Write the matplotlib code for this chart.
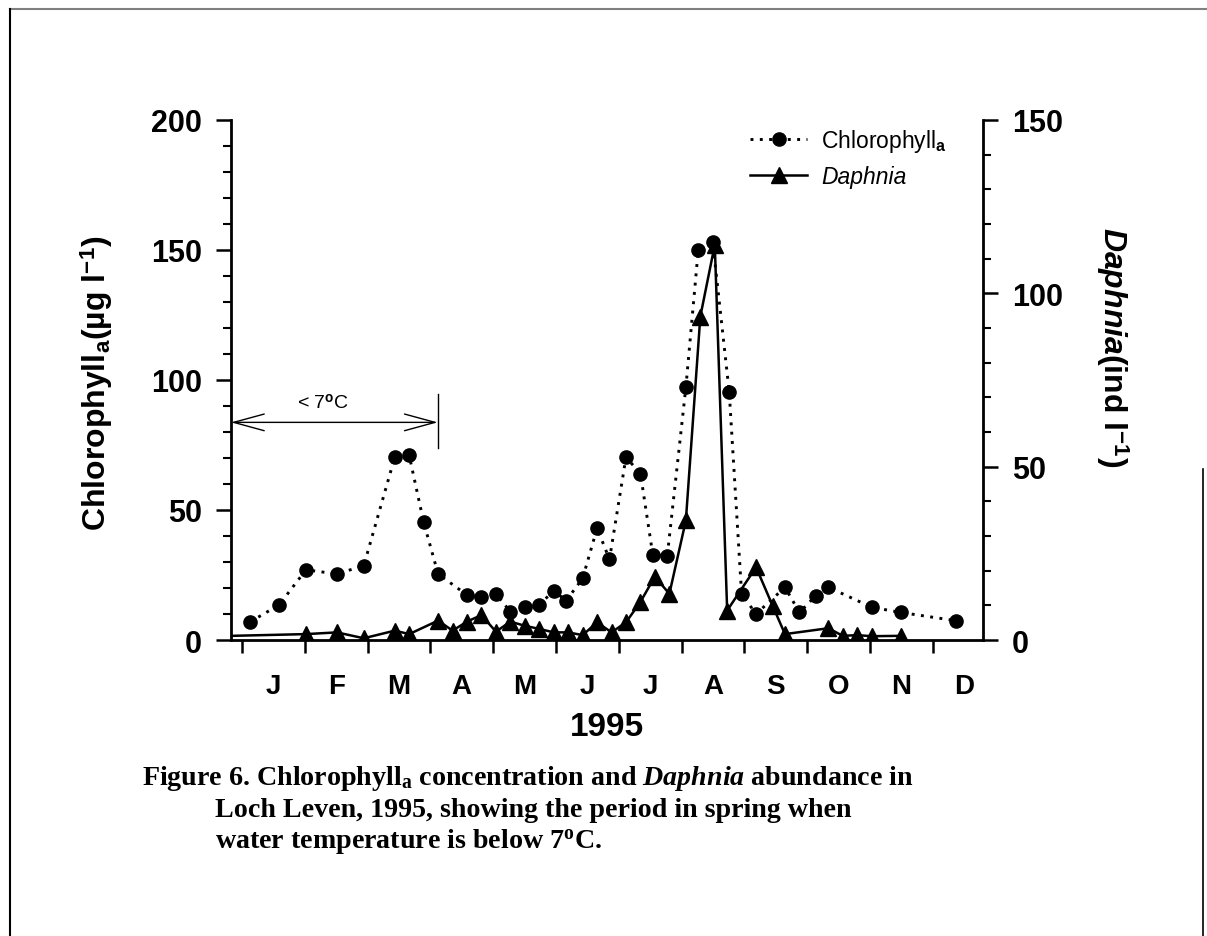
import numpy as np
import matplotlib
matplotlib.use('Agg')
import matplotlib.pyplot as plt
from matplotlib.lines import Line2D

plt.rcParams['font.family'] = ['Liberation Sans', 'DejaVu Sans']
plt.rcParams['font.weight'] = 'bold'
plt.rcParams['mathtext.fontset'] = 'custom'
plt.rcParams['mathtext.rm'] = 'Liberation Serif:bold'
plt.rcParams['mathtext.it'] = 'Liberation Serif:bold:italic'
plt.rcParams['mathtext.sf'] = 'Liberation Sans:bold'
plt.rcParams['mathtext.bfit'] = 'Liberation Sans:bold:italic'
plt.rcParams['mathtext.tt'] = 'Liberation Sans'

# sampling dates (day of 1995) and values
chl_day = [4, 18, 31, 46, 59, 74, 81, 88, 95, 109, 116, 123, 130, 137, 144,
           151, 157, 165, 172, 178, 186, 193, 199, 206, 215, 221, 228, 236,
           242, 249, 263, 270, 278, 284, 305, 319, 346]
chl = [7, 13.5, 27, 25.4, 28.6, 70.3, 71, 45.3, 25.4, 17.3, 16.4, 17.7, 10.9,
       12.6, 13.5, 19, 15.1, 23.7, 43, 31, 70.3, 64, 32.7, 32.4, 97.2, 150,
       153, 95.3, 17.7, 10, 20.3, 10.6, 17.1, 20.3, 12.6, 10.6, 7.4]

daph_day = [-5, 31, 46, 59, 74, 81, 95, 102, 109, 116, 123, 130, 137, 144,
            151, 158, 165, 172, 179, 186, 193, 200, 207, 215, 222, 229, 235,
            249, 257, 263, 284, 291, 298, 305, 319]
daph = [1.2, 1.7, 2.2, 0.5, 2.7, 1.7, 5.6, 2.7, 5.3, 7.2, 2.4, 5.3, 4.1, 3.2,
        2.2, 2.2, 1.4, 5.1, 2.2, 5.1, 11, 18.3, 13.3, 34.5, 93.3, 114, 8.5,
        21, 9.9, 1.7, 3.4, 1.2, 1.4, 1.1, 1.2]

months = ['J', 'F', 'M', 'A', 'M', 'J', 'J', 'A', 'S', 'O', 'N', 'D']
cold_end = 94.8      # day the water warms above 7 C
arrow_level = 83.7   # height of the < 7 C arrow (chlorophyll units)

fig = plt.figure(figsize=(12.07, 9.37), dpi=100)
ax = fig.add_axes([0.1914, 0.3159, 0.6230, 0.5550])
ax2 = ax.twinx()

dotted = (0, (1, 2.2))
ax.plot(chl_day, chl, color='black', lw=2.1, ls=dotted, marker='o', ms=9.5,
        clip_on=False, zorder=3)
ax2.plot(daph_day, daph, color='black', lw=1.8, marker='^', ms=11.5,
         markevery=list(range(1, len(daph_day))), zorder=3)

ax.set_xlim(-5.3, 358.9)
ax.set_ylim(0, 200)
ax2.set_ylim(0, 150)

month_starts = np.arange(12) * 365 / 12
ax.set_xticks(month_starts)
ax.set_xticklabels([])
ax.set_xticks(month_starts + 365 / 24, minor=True)
ax.set_xticklabels(months, minor=True)
ax.tick_params(axis='x', which='major', direction='out', length=9, width=1.8)
ax.tick_params(axis='x', which='minor', length=0, pad=24, labelsize=20)

ax.set_yticks(np.arange(0, 201, 50))
ax.set_yticks(np.arange(0, 201, 10), minor=True)
ax.tick_params(axis='y', which='major', length=11, width=1.8, pad=10, labelsize=22)
ax.tick_params(axis='y', which='minor', length=6, width=1.5)
ax2.set_yticks(np.arange(0, 151, 50))
ax2.set_yticks(np.arange(0, 151, 10), minor=True)
ax2.tick_params(axis='y', which='major', length=11, width=1.8, pad=10, labelsize=22)
ax2.tick_params(axis='y', which='minor', length=6, width=1.5)

for s in ['top', 'right']:
    ax.spines[s].set_visible(False)
for s in ['top', 'left', 'bottom']:
    ax2.spines[s].set_visible(False)
ax.spines['left'].set_linewidth(2)
ax.spines['bottom'].set_linewidth(2)
ax2.spines['right'].set_linewidth(2)

# temperature period
ax.annotate('', xy=(-5.3, arrow_level), xytext=(cold_end, arrow_level),
            arrowprops=dict(arrowstyle='<->, head_length=1.1, head_width=0.3',
                            lw=1, color='black', shrinkA=0, shrinkB=0,
                            mutation_scale=20),
            annotation_clip=False)
ax.plot([cold_end, cold_end], [arrow_level - 10, arrow_level + 11],
        color='black', lw=1)
ax.text(39, 91.5, r'< 7$^{\mathtt{o}}$C', fontsize=14, fontweight='normal',
        ha='center', va='center')

handles = [Line2D([], [], color='black', lw=2.1, ls=dotted, marker='o', ms=9.5),
           Line2D([], [], color='black', lw=1.8, marker='^', ms=11.5)]
leg = ax2.legend(handles, [r'Chlorophyll$_{\mathtt{a}}$', 'Daphnia'],
                 loc='upper left', bbox_to_anchor=(750 / 1207, 1 - 128 / 937),
                 bbox_transform=fig.transFigure, frameon=False, borderpad=0,
                 borderaxespad=0, handlelength=2.5, handletextpad=0.6,
                 labelspacing=0.5, prop={'size': 16.5, 'weight': 'normal'})
leg.get_texts()[1].set_fontstyle('italic')

fig.text(97 / 1207, 1 - 383 / 937, r'Chlorophyll$_{\mathsf{a}}$(µg l$^{\mathsf{-1}}$)',
         rotation=90, ha='center', va='center', fontsize=23)
fig.text(1112 / 1207, 1 - 347 / 937, r'$\mathbfit{Daphnia}$(ind l$^{\mathsf{-1}}$)',
         rotation=270, ha='center', va='center', fontsize=23)
fig.text(607 / 1207, 1 - 728 / 937, '1995', ha='center', va='center', fontsize=24)

cap = dict(family='Liberation Serif', weight='bold', size=20.2, va='baseline')
fig.text(142 / 1207, 1 - 785 / 937,
         r'Figure 6. Chlorophyll$_{\mathrm{a}}$ concentration and $\mathit{Daphnia}$ abundance in',
         **cap)
fig.text(215 / 1207, 1 - 817 / 937,
         'Loch Leven, 1995, showing the period in spring when', **cap)
fig.text(215 / 1207, 1 - 849 / 937,
         r'water temperature is below 7$^{\mathrm{o}}$C.', **cap)

# scanned page border
fig.add_artist(Line2D([10 / 1207, 1], [1 - 10 / 937, 1 - 10 / 937],
                      color='0.5', lw=1.5, transform=fig.transFigure))
fig.add_artist(Line2D([10 / 1207, 10 / 1207], [0, 1 - 10 / 937],
                      color='black', lw=1.5, transform=fig.transFigure))
fig.add_artist(Line2D([1203 / 1207, 1203 / 1207], [0, 1 - 470 / 937],
                      color='black', lw=1.2, transform=fig.transFigure))

fig.savefig('out.png', dpi=100)
